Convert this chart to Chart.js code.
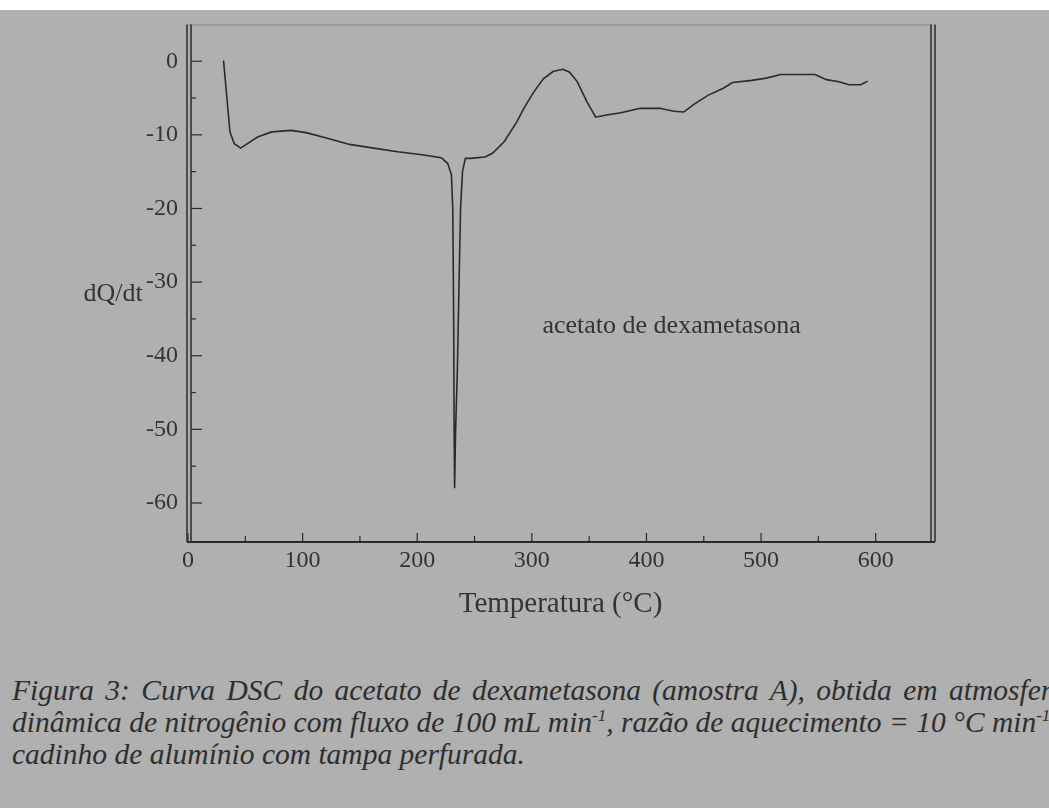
<!DOCTYPE html>
<html>
<head>
<meta charset="utf-8">
<script src="https://cdn.jsdelivr.net/npm/chart.js@4"></script>
<style>
  html, body { margin: 0; padding: 0; background: #fff; }
  #page { position: absolute; left: 0; top: 10px; width: 1049px; height: 798px; background: #b0b0b0; overflow: hidden; }
  #chart { position: absolute; left: 0; top: -10px; }
  #legenda { position: absolute; left: 12px; top: 664px; width: 1055px; font-family: "Liberation Serif", serif; font-style: italic; font-size: 29.5px; line-height: 32px; color: #2e2e2e; }
  #legenda div { white-space: nowrap; }
  #legenda .just { text-align: justify; text-align-last: justify; white-space: normal; }
  sup { font-size: 17px; line-height: 0; }
</style>
</head>
<body>
<div id="page">
  <canvas id="chart" width="1049" height="640"></canvas>
  <div id="legenda">
    <div class="just">Figura 3: Curva DSC do acetato de dexametasona (amostra A), obtida em atmosfera</div>
    <div>dinâmica de nitrogênio com fluxo de 100 mL min<sup>-1</sup>, razão de aquecimento = 10 °C min<sup>-1</sup> e</div>
    <div>cadinho de alumínio com tampa perfurada.</div>
  </div>
</div>
<script>
// Dados (temperatura em °C, sinal DSC)
const TEMPS = [31, 34, 36.6, 40.4, 45.9, 60.7, 73, 90, 103, 120, 141, 162, 183, 204, 221,
  226.6, 229.8, 231, 231.8, 232.2, 232.6, 233.5, 235, 236.5, 237.8, 239.5, 242, 246.6, 259, 265.7,
  276, 287, 293, 301.6, 310, 318.5, 327, 333, 339.7, 348, 355.7, 365, 377.7, 394.6, 411.5,
  424, 432.6, 441, 454, 466.6, 475, 492, 504.6, 517, 534, 547, 557, 568, 576.5, 587, 593];
const DQDT = [0.1, -5.1, -9.6, -11.2, -11.8, -10.3, -9.6, -9.4, -9.7, -10.4, -11.3, -11.8, -12.3, -12.7, -13.1,
  -13.9, -15.4, -20, -35, -50, -58, -50, -42, -30, -20, -15, -13.2, -13.2, -13, -12.5,
  -10.9, -8.2, -6.4, -4.2, -2.4, -1.4, -1.1, -1.5, -2.8, -5.5, -7.6, -7.3, -7.0, -6.4, -6.4,
  -6.8, -6.9, -5.9, -4.6, -3.7, -2.9, -2.6, -2.3, -1.8, -1.8, -1.8, -2.5, -2.8, -3.2, -3.2, -2.7];

const X_TICKS = [0, 100, 200, 300, 400, 500, 600];
const Y_TICKS = [0, -10, -20, -30, -40, -50, -60];
const X_MINOR = [50, 150, 250, 350, 450, 550];
const Y_MINOR = [-5, -15, -25, -35, -45, -55];

const SERIE_NOME = 'acetato de dexametasona';
const TITULO_X = 'Temperatura (°C)';
const TITULO_Y = 'dQ/dt';

const COR_TEXTO = '#333';
const FONTE = '"Liberation Serif", serif';

// === Moldura, marcas internas e textos soltos ===
const molduraPlugin = {
  id: 'moldura',
  afterDraw(chart) {
    const { ctx, chartArea: a, scales: { x, y } } = chart;
    ctx.save();
    // topo fino
    ctx.strokeStyle = '#888';
    ctx.lineWidth = 1;
    ctx.beginPath(); ctx.moveTo(a.left, a.top + 0.5); ctx.lineTo(a.right, a.top + 0.5); ctx.stroke();
    // eixos duplos
    ctx.strokeStyle = '#2a2a2a';
    ctx.lineWidth = 1.5;
    [a.left - 1, a.left + 3, a.right - 2, a.right + 2].forEach(px => {
      ctx.beginPath(); ctx.moveTo(px, a.top); ctx.lineTo(px, a.bottom); ctx.stroke();
    });
    ctx.lineWidth = 2;
    ctx.beginPath(); ctx.moveTo(a.left - 1, a.bottom); ctx.lineTo(a.right + 2, a.bottom); ctx.stroke();

    // marcas para dentro
    ctx.lineWidth = 1.2;
    X_TICKS.forEach(v => { const px = x.getPixelForValue(v); ctx.beginPath(); ctx.moveTo(px, a.bottom); ctx.lineTo(px, a.bottom - 9); ctx.stroke(); });
    X_MINOR.forEach(v => { const px = x.getPixelForValue(v); ctx.beginPath(); ctx.moveTo(px, a.bottom); ctx.lineTo(px, a.bottom - 6); ctx.stroke(); });
    Y_TICKS.forEach(v => { const py = y.getPixelForValue(v); ctx.beginPath(); ctx.moveTo(a.left + 3, py); ctx.lineTo(a.left + 14, py); ctx.stroke(); });
    Y_MINOR.forEach(v => { const py = y.getPixelForValue(v); ctx.beginPath(); ctx.moveTo(a.left + 3, py); ctx.lineTo(a.left + 8, py); ctx.stroke(); });

    // rótulo da amostra
    ctx.fillStyle = COR_TEXTO;
    ctx.font = '26px ' + FONTE;
    ctx.textAlign = 'center';
    ctx.textBaseline = 'middle';
    ctx.fillText(SERIE_NOME, x.getPixelForValue(422), y.getPixelForValue(-36));

    // título do eixo y (horizontal)
    ctx.fillText(TITULO_Y, 113, y.getPixelForValue(-31.6));
    ctx.restore();
  }
};

const ctx = document.getElementById('chart').getContext('2d');
new Chart(ctx, {
  type: 'scatter',
  data: {
    datasets: [{
      label: SERIE_NOME,
      data: TEMPS.map((t, i) => ({ x: t, y: DQDT[i] })),
      showLine: true,
      borderColor: '#2a2a2a',
      borderWidth: 1.6,
      pointRadius: 0,
      tension: 0
    }]
  },
  options: {
    responsive: false,
    animation: false,
    layout: { padding: { top: 22, right: 116, left: 0, bottom: 0 } },
    plugins: { legend: { display: false }, tooltip: { enabled: false } },
    scales: {
      x: {
        type: 'linear', min: 0, max: 650,
        afterBuildTicks: s => { s.ticks = X_TICKS.map(v => ({ value: v })); },
        afterFit: s => { s.height = 640 - 542; },
        grid: { display: false, drawTicks: false },
        border: { display: false },
        ticks: { color: COR_TEXTO, font: { family: FONTE, size: 24 }, padding: 4, maxRotation: 0 },
        title: { display: true, text: TITULO_X, color: COR_TEXTO, font: { family: FONTE, size: 29 }, padding: { bottom: 18 } }
      },
      y: {
        type: 'linear', min: -65.3, max: 5,
        afterBuildTicks: s => { s.ticks = Y_TICKS.map(v => ({ value: v })); },
        afterFit: s => { s.width = 188; },
        grid: { display: false, drawTicks: false },
        border: { display: false },
        ticks: { color: COR_TEXTO, font: { family: FONTE, size: 24 }, padding: 10 }
      }
    }
  },
  plugins: [molduraPlugin]
});
</script>
</body>
</html>
